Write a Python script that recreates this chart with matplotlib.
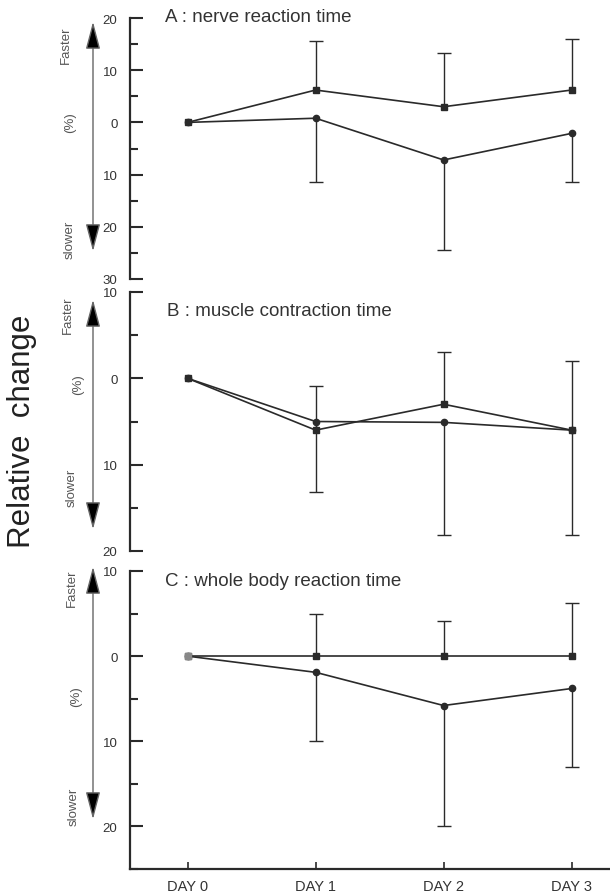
import numpy as np
import matplotlib.pyplot as plt
from matplotlib.patches import FancyArrowPatch
from matplotlib.ticker import MultipleLocator, FuncFormatter

plt.rcParams['font.family'] = ['Liberation Sans', 'DejaVu Sans']

# data (faster = positive, slower = negative)
days = ['DAY 0', 'DAY 1', 'DAY 2', 'DAY 3']
a_sq = [0, 6.2, 3.0, 6.2]
a_sq_err = [0, 9.3, 10.2, 9.8]      # upper bars
a_ci = [0, 0.8, -7.2, -2.1]
a_ci_err = [0, 12.2, 17.2, 9.3]     # lower bars
b_sq = [0, -6.0, -3.0, -6.0]
b_sq_err = [0, 5.1, 6.0, 8.0]
b_ci = [0, -5.0, -5.1, -6.0]
b_ci_err = [0, 8.2, 13.1, 12.2]
c_sq = [0, 0, 0, 0]
c_sq_err = [0, 5.0, 4.1, 6.2]
c_ci = [0, -1.9, -5.8, -3.8]
c_ci_err = [0, 8.1, 14.2, 9.2]

titles = ['A : nerve reaction time', 'B : muscle contraction time',
          'C : whole body reaction time']

W, H = 610, 895
fig = plt.figure(figsize=(W / 100, H / 100), dpi=100)

def fx(px):
    return px / W

def fy(py):
    return 1 - py / H

# axes boxes in pixels: top, bottom
boxes = [(19, 280), (293, 552), (572, 870)]
ylims = [(-30, 20), (-20, 10), (-25, 10)]
panels = [(a_sq, a_sq_err, a_ci, a_ci_err),
          (b_sq, b_sq_err, b_ci, b_ci_err),
          (c_sq, c_sq_err, c_ci, c_ci_err)]
title_pos = [(165, 18), (167, 312), (165, 582)]
arrows = [(20, 255), (298, 533), (565, 823)]
side_txt = [[(66, 45), (70, 123), (70, 240)],
            [(68, 315), (78, 385), (72, 488)],
            [(72, 588), (76, 697), (74, 807)]]

x = np.arange(len(days))
lc = '#2a2a2a'
tc = '#333333'

for i, ((top, bot), (sq, sqe, ci, cie)) in enumerate(zip(boxes, panels)):
    ax = fig.add_axes([fx(130), fy(bot), fx(610) - fx(130), fy(top) - fy(bot)])
    ax.set_xlim(-0.45, 3.3)
    ax.set_ylim(*ylims[i])
    for s in ['top', 'right']:
        ax.spines[s].set_visible(False)
    ax.spines['left'].set_linewidth(1.6)
    ax.spines['left'].set_color(lc)
    if i < 2:
        ax.spines['bottom'].set_visible(False)
        ax.set_xticks([])
    else:
        ax.spines['bottom'].set_linewidth(1.6)
        ax.spines['bottom'].set_color(lc)
        ax.set_xticks(x)
        ax.set_xticklabels(days, fontsize=10.5, color=tc)
        ax.tick_params(axis='x', direction='in', length=5, width=1.2,
                       color=lc, pad=7)
    ax.yaxis.set_major_locator(MultipleLocator(10))
    ax.yaxis.set_minor_locator(MultipleLocator(5))
    ax.yaxis.set_major_formatter(FuncFormatter(lambda v, p: f'{abs(v):g}'))
    ax.tick_params(axis='y', which='major', direction='in', length=9,
                   width=1.5, color=lc, labelsize=9.5, labelcolor=tc, pad=9)
    ax.tick_params(axis='y', which='minor', direction='in', length=5.5,
                   width=1.5, color=lc)

    sq = np.array(sq); sqe = np.array(sqe)
    ci = np.array(ci); cie = np.array(cie)
    # one-sided error bars: squares up, circles down
    ax.vlines(x[1:], sq[1:], sq[1:] + sqe[1:], color=lc, lw=1.0)
    ax.plot(x[1:], sq[1:] + sqe[1:], ls='none', marker='_', ms=10,
            mew=1.0, color=lc)
    ax.vlines(x[1:], ci[1:], ci[1:] - cie[1:], color=lc, lw=1.0)
    ax.plot(x[1:], ci[1:] - cie[1:], ls='none', marker='_', ms=10,
            mew=1.0, color=lc)

    ax.plot(x, ci, color=lc, lw=1.2, marker='o', ms=4.5)
    ax.plot(x, sq, color=lc, lw=1.2, marker='s', ms=5)
    if i == 2:
        ax.plot(x[:1], sq[:1], ls='none', marker='s', ms=5, color='#888888')

    fig.text(fx(title_pos[i][0]), fy(title_pos[i][1]), titles[i],
             fontsize=13.5, color=tc, ha='left', va='center')

    a_top, a_bot = arrows[i]
    arr = FancyArrowPatch((fx(93), fy(a_top)), (fx(93), fy(a_bot)),
                          transform=fig.transFigure,
                          arrowstyle='<|-|>,head_length=1.7,head_width=0.45',
                          mutation_scale=10, lw=1.0, ec='#666666', fc='black')
    fig.add_artist(arr)

    for (px, py), s in zip(side_txt[i], ['Faster', '(%)', 'slower']):
        fig.text(fx(px), fy(py), s, rotation=90, fontsize=9.5,
                 color='#555555', ha='center', va='center')

fig.text(fx(22), fy(431), 'Relative  change', rotation=90, fontsize=22.5,
         color='#222222', ha='center', va='center')

fig.savefig('out.png', dpi=100)
